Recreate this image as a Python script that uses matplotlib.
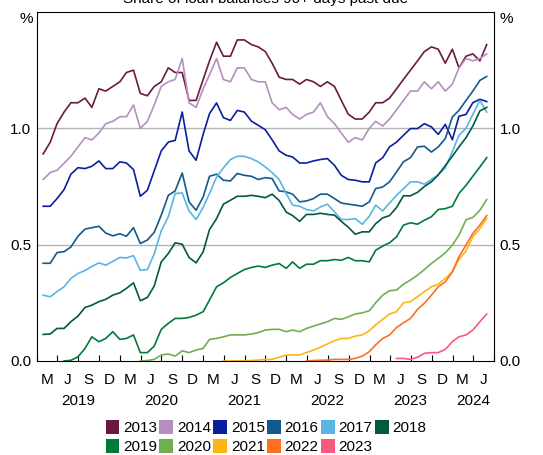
import matplotlib
matplotlib.use('Agg')
import matplotlib.pyplot as plt
import matplotlib.dates as mdates
import matplotlib.transforms as mtransforms
from matplotlib.patches import Patch
import pandas as pd

plt.rcParams['font.family'] = ['Liberation Sans', 'DejaVu Sans']

# monthly observations, Feb 2019 - Jun 2024 (each cohort ends in Jun 2024)
months = pd.date_range('2019-02-28', '2024-06-30', freq='ME')

c2013 = [0.89, 0.94, 1.02, 1.07, 1.11, 1.11, 1.13, 1.09, 1.17, 1.16,
         1.18, 1.20, 1.24, 1.25, 1.15, 1.14, 1.18, 1.20, 1.26, 1.24,
         1.24, 1.12, 1.12, 1.21, 1.29, 1.37, 1.31, 1.31, 1.38, 1.38,
         1.36, 1.35, 1.33, 1.28, 1.22, 1.21, 1.21, 1.19, 1.21, 1.20,
         1.18, 1.20, 1.18, 1.12, 1.06, 1.04, 1.04, 1.07, 1.11, 1.11,
         1.13, 1.17, 1.21, 1.25, 1.29, 1.33, 1.35, 1.34, 1.28, 1.34,
         1.26, 1.31, 1.32, 1.29, 1.36]
c2014 = [0.78, 0.81, 0.82, 0.85, 0.88, 0.92, 0.96, 0.95, 0.98, 1.02,
         1.03, 1.05, 1.05, 1.10, 1.00, 1.03, 1.10, 1.18, 1.20, 1.21,
         1.30, 1.11, 1.09, 1.17, 1.23, 1.30, 1.21, 1.20, 1.26, 1.26,
         1.21, 1.20, 1.20, 1.11, 1.08, 1.09, 1.06, 1.04, 1.06, 1.07,
         1.11, 1.05, 1.02, 0.98, 0.94, 0.96, 0.95, 1.00, 1.03, 1.01,
         1.04, 1.08, 1.12, 1.16, 1.16, 1.20, 1.17, 1.20, 1.16, 1.19,
         1.26, 1.30, 1.29, 1.30, 1.32]
c2015 = [0.665, 0.665, 0.698, 0.737, 0.803, 0.831, 0.827, 0.837, 0.860, 0.827,
         0.827, 0.856, 0.851, 0.823, 0.708, 0.734, 0.817, 0.903, 0.941, 0.948,
         1.07, 0.903, 0.863, 0.974, 1.063, 1.109, 1.046, 1.034, 1.077, 1.07,
         1.031, 1.013, 0.994, 0.951, 0.903, 0.884, 0.877, 0.851, 0.851, 0.860,
         0.866, 0.870, 0.841, 0.798, 0.780, 0.777, 0.770, 0.770, 0.851, 0.874,
         0.920, 0.941, 0.970, 0.999, 0.999, 1.02, 1.006, 0.974, 1.017, 0.951,
         1.052, 1.06, 1.11, 1.125, 1.115]
c2016 = [0.42, 0.42, 0.466, 0.47, 0.49, 0.536, 0.567, 0.573, 0.579, 0.55,
         0.538, 0.547, 0.536, 0.573, 0.505, 0.52, 0.553, 0.627, 0.712, 0.731,
         0.808, 0.684, 0.648, 0.705, 0.794, 0.803, 0.777, 0.774, 0.806, 0.798,
         0.794, 0.780, 0.788, 0.784, 0.731, 0.727, 0.717, 0.684, 0.688, 0.698,
         0.717, 0.717, 0.698, 0.679, 0.674, 0.670, 0.665, 0.684, 0.741, 0.748,
         0.770, 0.813, 0.856, 0.874, 0.920, 0.923, 0.898, 0.920, 0.956, 1.049,
         1.077, 1.12, 1.16, 1.206, 1.223]
c2017 = [0.283, 0.276, 0.298, 0.319, 0.355, 0.376, 0.389, 0.406, 0.422, 0.412,
         0.428, 0.445, 0.443, 0.453, 0.39, 0.393, 0.46, 0.56, 0.62, 0.72,
         0.722, 0.645, 0.608, 0.66, 0.72, 0.79, 0.83, 0.866, 0.88, 0.88,
         0.87, 0.856, 0.834, 0.81, 0.78, 0.72, 0.67, 0.665, 0.651, 0.645,
         0.662, 0.674, 0.641, 0.608, 0.608, 0.612, 0.588, 0.622, 0.670, 0.645,
         0.679, 0.712, 0.74, 0.77, 0.77, 0.76, 0.78, 0.80, 0.83, 0.90,
         0.97, 1.0, 1.06, 1.12, 1.07]
c2018 = [0.114, 0.116, 0.14, 0.14, 0.169, 0.193, 0.230, 0.240, 0.255, 0.265,
         0.283, 0.293, 0.312, 0.336, 0.259, 0.273, 0.322, 0.426, 0.462, 0.508,
         0.502, 0.445, 0.422, 0.469, 0.565, 0.612, 0.674, 0.691, 0.708, 0.708,
         0.712, 0.708, 0.702, 0.717, 0.69, 0.64, 0.625, 0.60, 0.63, 0.63,
         0.635, 0.63, 0.627, 0.60, 0.575, 0.545, 0.555, 0.555, 0.59, 0.615,
         0.625, 0.66, 0.71, 0.71, 0.725, 0.75, 0.77, 0.80, 0.84, 0.88,
         0.92, 0.96, 1.01, 1.075, 1.09]
c2019 = [0.0, 0.003, 0.018, 0.054, 0.104, 0.083, 0.097,
         0.126, 0.093, 0.097, 0.112, 0.036, 0.036, 0.064, 0.136, 0.162, 0.183,
         0.183, 0.187, 0.197, 0.212, 0.262, 0.319, 0.336, 0.359, 0.376, 0.393,
         0.402, 0.408, 0.402, 0.412, 0.419, 0.398, 0.426, 0.398, 0.416, 0.416,
         0.431, 0.431, 0.436, 0.433, 0.445, 0.431, 0.431, 0.426, 0.476, 0.494,
         0.508, 0.534, 0.584, 0.594, 0.588, 0.605, 0.62, 0.651, 0.655, 0.665,
         0.72, 0.755, 0.794, 0.834, 0.874]
c2020 = [0.0, 0.002, 0.007, 0.026, 0.03, 0.021,
         0.044, 0.036, 0.047, 0.054, 0.093, 0.097, 0.104, 0.112, 0.112, 0.112,
         0.116, 0.122, 0.133, 0.136, 0.136, 0.126, 0.133, 0.126, 0.140, 0.150,
         0.159, 0.169, 0.183, 0.179, 0.190, 0.202, 0.207, 0.216, 0.250, 0.283,
         0.302, 0.305, 0.330, 0.348, 0.369, 0.393, 0.419, 0.441, 0.465, 0.498,
         0.541, 0.607, 0.617, 0.648, 0.694]
c2021 = [0.0, 0.0, 0.001, 0.001,
         0.002, 0.004, 0.007, 0.007, 0.016, 0.026, 0.026, 0.026, 0.036, 0.047,
         0.059, 0.073, 0.087, 0.097, 0.097, 0.107, 0.112, 0.130, 0.155, 0.179,
         0.202, 0.212, 0.250, 0.255, 0.276, 0.298, 0.319, 0.330, 0.355, 0.383,
         0.436, 0.473, 0.534, 0.569, 0.612]
c2022 = [0.0, 0.002,
         0.003, 0.004, 0.007, 0.007, 0.007, 0.011, 0.021, 0.040, 0.069, 0.097,
         0.112, 0.144, 0.164, 0.183, 0.222, 0.248, 0.283, 0.319, 0.340, 0.383,
         0.448, 0.498, 0.548, 0.584, 0.625]
c2023 = [0.011, 0.011, 0.007, 0.016, 0.033, 0.036, 0.036, 0.050, 0.083,
         0.104, 0.112, 0.133, 0.169, 0.202]

cohorts = ['2013', '2014', '2015', '2016', '2017', '2018',
           '2019', '2020', '2021', '2022', '2023']
series = [c2013, c2014, c2015, c2016, c2017, c2018,
          c2019, c2020, c2021, c2022, c2023]
colours = ['#6b1a3f', '#b58fc0', '#0a1ea0', '#125a8c', '#5ab4e4', '#005a40',
           '#007a3b', '#71ae52', '#fdb515', '#fe6f1f', '#f95a7c']

fig = plt.figure(figsize=(5.43, 4.55), dpi=100)
ax = fig.add_axes([37/543, 1 - 361/455, 457/543, 349/455])

ax.axhline(0.5, color='#b4b4b4', lw=1, zorder=0)
ax.axhline(1.0, color='#b4b4b4', lw=1, zorder=0)

for vals, col in zip(series, colours):
    ax.plot(months[-len(vals):], vals, color=col, lw=1.2)

ax.set_ylim(0, 1.5)
ax.set_xlim(pd.Timestamp('2019-02-01'), pd.Timestamp('2024-08-01'))
ax.set_yticks([0, 0.5, 1.0])
ax.set_yticklabels(['0.0', '0.5', '1.0'])
ax.tick_params(axis='y', length=0, labelsize=11, pad=4,
               left=False, right=False, labelleft=True, labelright=True)

# quarter boundaries as ticks, month letters in between
ax.xaxis.set_major_locator(mdates.MonthLocator(bymonth=[2, 5, 8, 11]))
ax.xaxis.set_major_formatter(plt.NullFormatter())
ax.xaxis.set_minor_locator(mdates.MonthLocator(bymonth=[3, 6, 9, 12], bymonthday=16))
ax.xaxis.set_minor_formatter(plt.FuncFormatter(
    lambda x, pos: mdates.num2date(x).strftime('%b')[0]))
ax.tick_params(axis='x', which='major', direction='in', length=4.5, width=0.8)
ax.tick_params(axis='x', which='minor', length=0, labelsize=11, pad=9)

for sp in ax.spines.values():
    sp.set_linewidth(0.8)

trans = mtransforms.blended_transform_factory(ax.transData, ax.transAxes)
years = ['2019', '2020', '2021', '2022', '2023', '2024']
for y in years:
    if y == '2024':
        xc = pd.Timestamp('2024-05-01')
    else:
        xc = pd.Timestamp(y + '-08-01')
    ax.text(xc, -0.114, y, transform=trans, ha='center', va='center', fontsize=11)

fig.text(33/543, 1 - 19/455, '%', ha='right', va='center', fontsize=11)
fig.text(499/543, 1 - 19/455, '%', ha='left', va='center', fontsize=11)
fig.text(266/543, 1 - 3/455, 'Share of loan balances 90+ days past due',
         ha='center', va='baseline', fontsize=11)

# legend filled row by row (6 columns)
order = [0, 6, 1, 7, 2, 8, 3, 9, 4, 10, 5]
handles = [Patch(facecolor=colours[i], edgecolor='none') for i in order]
labels = [cohorts[i] for i in order]
fig.legend(handles, labels, loc='center', bbox_to_anchor=(266/543, 1 - 437/455),
           ncol=6, frameon=False, fontsize=11, handlelength=0.9, handleheight=1.0,
           handletextpad=0.25, columnspacing=0.15, labelspacing=0.25,
           borderpad=0, borderaxespad=0)

fig.savefig('out.png', dpi=100)
